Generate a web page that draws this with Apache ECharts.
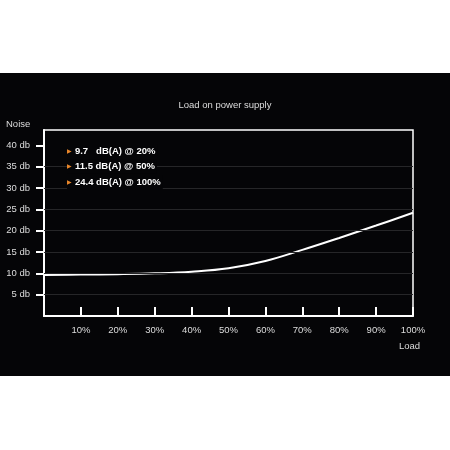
<!DOCTYPE html>
<html>
<head>
<meta charset="utf-8">
<script src="https://cdn.jsdelivr.net/npm/echarts@6/dist/echarts.min.js"></script>
<style>
  html, body { margin: 0; padding: 0; background: #fff; }
  #chart { position: absolute; left: 0; top: 73px; width: 450px; height: 303px; background: #050507; }
</style>
</head>
<body>
<div id="chart"></div>
<script>
// load in % and noise in db
const loads = [0, 10, 20, 30, 40, 50, 60, 70, 80, 90, 100]
const noise = [9.6, 9.7, 9.8, 10.0, 10.4, 11.2, 12.9, 15.5, 18.3, 21.2, 24.2]
const yTicks = [5, 10, 15, 20, 25, 30, 35, 40]
// faint guide lines (none at 40 in the original)
const guideValues = [5, 10, 15, 20, 25, 30, 35]
// callouts in the upper left
const noteValues = ['9.7  ', '11.5', '24.4']
const noteLoads = ['20%', '50%', '100%']

const font = 'Liberation Sans, Arial, sans-serif'
const bg = '#050507'
const myChart = echarts.init(document.getElementById('chart'))

const notes = noteValues.map((v, i) => ({
    type: 'text',
    z: 100,
    left: 67,
    top: 71 + i * 15.5,
    style: {
        text: '{m|▶} {t|' + v + ' dB(A) @ ' + noteLoads[i] + '}',
        backgroundColor: bg,
        padding: [1, 2, 1, 0],
        rich: {
            m: { fill: '#e8862a', fontSize: 6, fontFamily: 'DejaVu Sans' },
            t: { fill: '#fff', fontSize: 9.5, fontWeight: 'bold', fontFamily: font }
        }
    }
}))

myChart.setOption({
    animation: false,
    title: {
        text: 'Load on power supply',
        left: 'center',
        top: 22,
        textStyle: { color: '#ddd', fontSize: 9.5, fontWeight: 'normal', fontFamily: font }
    },
    grid: {
        left: 44, right: 37, top: 57, bottom: 60,
        show: true, borderColor: '#fff', borderWidth: 1.5, backgroundColor: 'transparent'
    },
    xAxis: {
        type: 'value', min: 0, max: 100, interval: 10,
        axisLine: { lineStyle: { color: '#fff', width: 2 } },
        axisTick: { inside: true, length: 9, lineStyle: { color: '#fff', width: 2 } },
        axisLabel: {
            color: '#ddd', fontSize: 9.5, fontFamily: font, margin: 9,
            formatter: v => v === 0 ? '' : v + '%'
        },
        splitLine: { show: false }
    },
    yAxis: {
        type: 'value', min: 0, max: 43.6,
        axisLine: { show: true, lineStyle: { color: '#fff', width: 2 } },
        axisTick: { show: true, length: 8, customValues: yTicks, lineStyle: { color: '#fff', width: 2 } },
        axisLabel: {
            color: '#ddd', fontSize: 9.5, fontFamily: font, margin: 14,
            customValues: yTicks,
            formatter: v => v + ' db'
        },
        splitLine: { show: false }
    },
    graphic: [
        { type: 'text', left: 6, top: 46, style: { text: 'Noise', fill: '#ddd', fontSize: 9.5, fontFamily: font } },
        { type: 'text', left: 399, top: 268, style: { text: 'Load', fill: '#ddd', fontSize: 9.5, fontFamily: font } }
    ].concat(notes),
    series: [{
        type: 'line',
        data: loads.map((l, i) => [l, noise[i]]),
        smooth: 0.4,
        showSymbol: false,
        lineStyle: { color: '#fff', width: 2 },
        markLine: {
            silent: true,
            symbol: 'none',
            label: { show: false },
            lineStyle: { color: '#262628', width: 1.2, type: 'solid' },
            data: guideValues.map(v => ({ yAxis: v }))
        }
    }]
})
</script>
</body>
</html>
